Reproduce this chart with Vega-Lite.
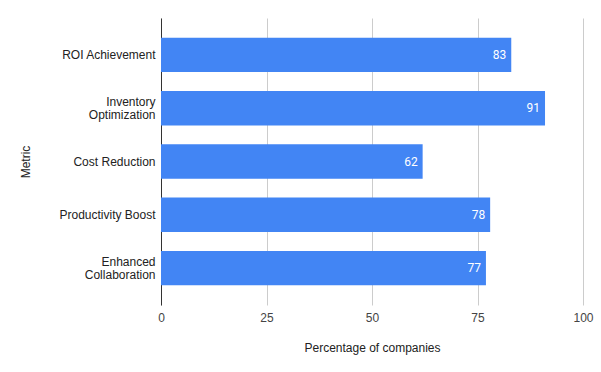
{
  "$schema": "https://vega.github.io/schema/vega-lite/v6.json",
  "autosize": "none",
  "padding": {"left": 161, "top": 18, "right": 18, "bottom": 67},
  "width": 422,
  "height": 287,
  "background": "white",
  "config": {"view": {"stroke": null}, "font": "Liberation Sans"},
  "data": {"values": [
    {"metric": "ROI Achievement", "value": 83},
    {"metric": "Inventory Optimization", "value": 91},
    {"metric": "Cost Reduction", "value": 62},
    {"metric": "Productivity Boost", "value": 78},
    {"metric": "Enhanced Collaboration", "value": 77}
  ]},
  "encoding": {
    "y": {
      "field": "metric", "type": "nominal", "sort": null,
      "scale": {"paddingInner": 0.355, "paddingOuter": 0.37},
      "axis": {
        "title": "Metric", "titleFont": "Liberation Sans", "titleFontSize": 12, "titleFontWeight": "normal", "titleColor": "#222222",
        "titleAngle": -90, "titleX": -136, "titleY": 143.5, "titleAlign": "center", "titleBaseline": "middle",
        "labelFont": "Liberation Sans", "labelFontSize": 12, "labelColor": "#222222", "labelPadding": 6, "labelLineHeight": 13.5,
        "labelExpr": "(datum.label == 'Inventory Optimization' || datum.label == 'Enhanced Collaboration') ? split(datum.label, ' ') : datum.label",
        "labelOffset": {"condition": {"test": "datum.value == 'Inventory Optimization' || datum.value == 'Enhanced Collaboration'", "value": -6.5}, "value": 0},
        "ticks": false, "domain": true, "domainColor": "#333333", "domainWidth": 1, "grid": false
      }
    }
  },
  "layer": [
    {
      "mark": {"type": "bar", "color": "#4285F4", "cornerRadius": 0},
      "encoding": {
        "x": {
          "field": "value", "type": "quantitative",
          "scale": {"domain": [0, 100], "nice": false},
          "axis": {
            "title": "Percentage of companies", "titleFont": "Liberation Sans", "titleFontSize": 12, "titleFontWeight": "normal", "titleColor": "#222222", "titlePadding": 19,
            "values": [0, 25, 50, 75, 100], "labelFont": "Liberation Sans", "labelFontSize": 12, "labelColor": "#444444", "labelPadding": 7, "labelFlush": false,
            "ticks": false, "domain": false, "grid": true, "gridColor": "#cccccc", "gridWidth": 1
          }
        }
      }
    },
    {
      "mark": {"type": "text", "align": "right", "baseline": "middle", "dx": -5, "color": "white", "font": "Roboto", "fontSize": 12},
      "encoding": {
        "x": {"field": "value", "type": "quantitative"},
        "text": {"field": "value", "type": "quantitative"}
      }
    }
  ]
}
